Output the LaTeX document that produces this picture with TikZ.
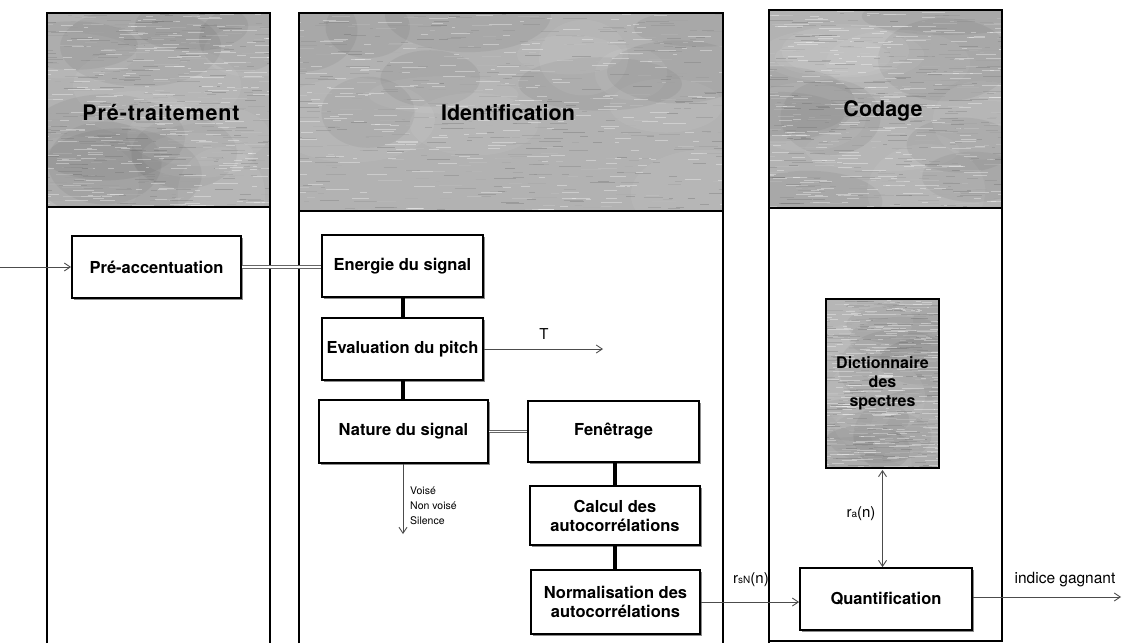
\documentclass[tikz,border=0pt]{standalone}
\usepackage{fontspec}
\setmainfont{TeX Gyre Heros}
\usetikzlibrary{arrows.meta,shadows}

\definecolor{hdrgray}{RGB}{178,178,178}

\tikzset{
  lane/.style={draw=black, line width=1.6pt},
  stage/.style={draw=black, line width=1.8pt, fill=white, align=center,
    font=\fontsize{16.5}{19}\selectfont\bfseries, inner sep=0pt,
    drop shadow={shadow xshift=1.6pt, shadow yshift=-1.6pt, fill=black!45, opacity=1}},
  link/.style={draw=black!70, line width=0.9pt},
  flow/.style={link, -{Straight Barb[length=6pt,width=8pt]}},
  pair/.style={draw=black!60, line width=0.8pt, double=white, double distance=1.6pt},
  chain/.style={draw=black, line width=4pt},
  lbl/.style={font=\fontsize{15}{17}\selectfont, inner sep=0pt},
  title/.style={font=\fontsize{21.5}{24}\selectfont\bfseries, inner sep=0pt},
}

% mottled grey fill for the column headers and the dictionary block
\newcommand\greytexture[4]{%
  \begin{scope}
    \clip (#1,#2) rectangle (#3,#4);
    \fill[hdrgray] (#1,#2) rectangle (#3,#4);
    \foreach \k in {1,...,16}{
      \pgfmathsetmacro\bx{#1+rnd*(#3-#1)}
      \pgfmathsetmacro\by{#2+rnd*(#4-#2)}
      \pgfmathsetmacro\brx{35+rnd*50}
      \pgfmathsetmacro\bry{18+rnd*30}
      \pgfmathtruncatemacro\bw{mod(\k,2)}
      \ifnum\bw=0
        \fill[white, opacity=0.06] (\bx,\by) ellipse [x radius=\brx pt, y radius=\bry pt];
      \else
        \fill[black, opacity=0.05] (\bx,\by) ellipse [x radius=\brx pt, y radius=\bry pt];
      \fi
    }
    \foreach \k in {1,...,700}{
      \pgfmathsetmacro\px{#1-20+rnd*(#3-#1+20)}
      \pgfmathsetmacro\py{#2+rnd*(#4-#2)}
      \pgfmathsetmacro\pl{3+rnd*22}
      \pgfmathtruncatemacro\pc{15+rnd*50}
      \pgfmathtruncatemacro\pw{mod(\k,3)}
      \ifnum\pw=0
        \draw[white, line width=0.5pt, opacity=0.35] (\px,\py) -- ++(\pl,0);
      \else
        \draw[black!\pc, line width=0.45pt, opacity=0.3] (\px,\py) -- ++(\pl,0);
      \fi
    }
  \end{scope}
}

\begin{document}
\begin{tikzpicture}[x=1pt,y=-1pt]
  \pgfmathsetseed{7}
  \useasboundingbox[fill=white] (0,0) rectangle (1123,643);

  % ---- column headers ----
  \greytexture{47}{13}{270}{207}
  \greytexture{299}{13}{723}{211}
  \greytexture{769}{10}{1002}{208}

  % ---- column frames ----
  \draw[lane] (47,643) -- (47,13) -- (270,13) -- (270,643);
  \draw[lane] (47,207) -- (270,207);
  \draw[lane] (299,643) -- (299,13) -- (723,13) -- (723,643);
  \draw[lane] (299,211) -- (723,211);
  \draw[lane] (769,643) -- (769,10) -- (1002,10) -- (1002,641) -- (769,641);
  \draw[lane] (769,208) -- (1002,208);

  \node[title] (t1) at (161,113) {\addfontfeature{LetterSpace=4}Pré-traitement};
  \node[title] (t2) at (508,113) {Identification};
  \node[title] (t3) at (883,111) {Codage};

  % ---- processing blocks ----
  \node[stage, minimum width=169pt, minimum height=62pt] (pre)    at (156.5,267) {Pré-accentuation};
  \node[stage, minimum width=161pt, minimum height=62pt] (energie) at (402.5,266) {Energie du signal};
  \node[stage, minimum width=161pt, minimum height=62pt] (pitch)  at (402.5,349) {Evaluation du pitch};
  \node[stage, minimum width=169pt, minimum height=63pt] (nature) at (403.5,431.5) {Nature du signal};
  \node[stage, minimum width=171pt, minimum height=61pt] (fen)    at (613.5,431.5) {Fenêtrage};
  \node[stage, minimum width=170pt, minimum height=59pt] (calc)   at (615,515.5) {Calcul des\\autocorrélations};
  \node[stage, minimum width=169pt, minimum height=64pt] (norm)   at (615.5,602) {Normalisation des\\autocorrélations};
  \node[stage, minimum width=172pt, minimum height=62pt] (quant)  at (886,599) {Quantification};

  \node[stage, fill=hdrgray, minimum width=111pt, minimum height=167pt] (dict) at (882.5,383.5) {};
  \greytexture{827}{300}{938}{467}
  \draw[black, line width=1.8pt] (dict.north west) rectangle (dict.south east);
  \node[font=\fontsize{16}{19}\selectfont\bfseries, align=center] (dicttxt) at (dict.center) {Dictionnaire\\des\\spectres};

  % ---- connectors ----
  \coordinate (in) at (0,267);
  \draw[flow] (in) -- (in -| pre.west);
  \draw[pair] (pre.east) -- (energie.west |- pre.east);
  \draw[chain] (energie.south) -- (pitch.north);
  \draw[chain] (pitch.south) -- (pitch.south |- nature.north);
  \draw[pair] (nature.east) -- (fen.west);
  \draw[chain] (fen.south -| calc.north) -- (calc.north);
  \draw[chain] (calc.south) -- (calc.south |- norm.north);

  \coordinate (tend) at (603,349);
  \draw[flow] (pitch.east) -- (tend);
  \node[lbl] (tlab) at (544,334) {T};

  \coordinate (vend) at (403,534);
  \draw[flow] (nature.south -| vend) -- (vend);
  \node[anchor=north west, align=left, inner sep=0pt,
        font=\fontsize{10.5}{15}\selectfont] (vlab) at (410,487) {Voisé\\Non voisé\\Silence};

  \draw[flow] (norm.east) -- (norm.east -| quant.west);
  \node[lbl] (rsn) at (751,580) {r{\fontsize{10}{10}\selectfont sN}(n)};

  \draw[link, {Straight Barb[length=6pt,width=8pt]}-{Straight Barb[length=6pt,width=8pt]}]
    ([yshift=-2pt]dict.south) -- (dict.south |- quant.north);
  \node[lbl] (ra) at (861,514) {r{\fontsize{10}{10}\selectfont a}(n)};

  \coordinate (out) at (1121,597);
  \draw[flow] (quant.east |- out) -- (out);
  \node[lbl, font=\fontsize{15.5}{17}\selectfont] (gagnant) at (1065,580) {indice gagnant};
\end{tikzpicture}
\end{document}
